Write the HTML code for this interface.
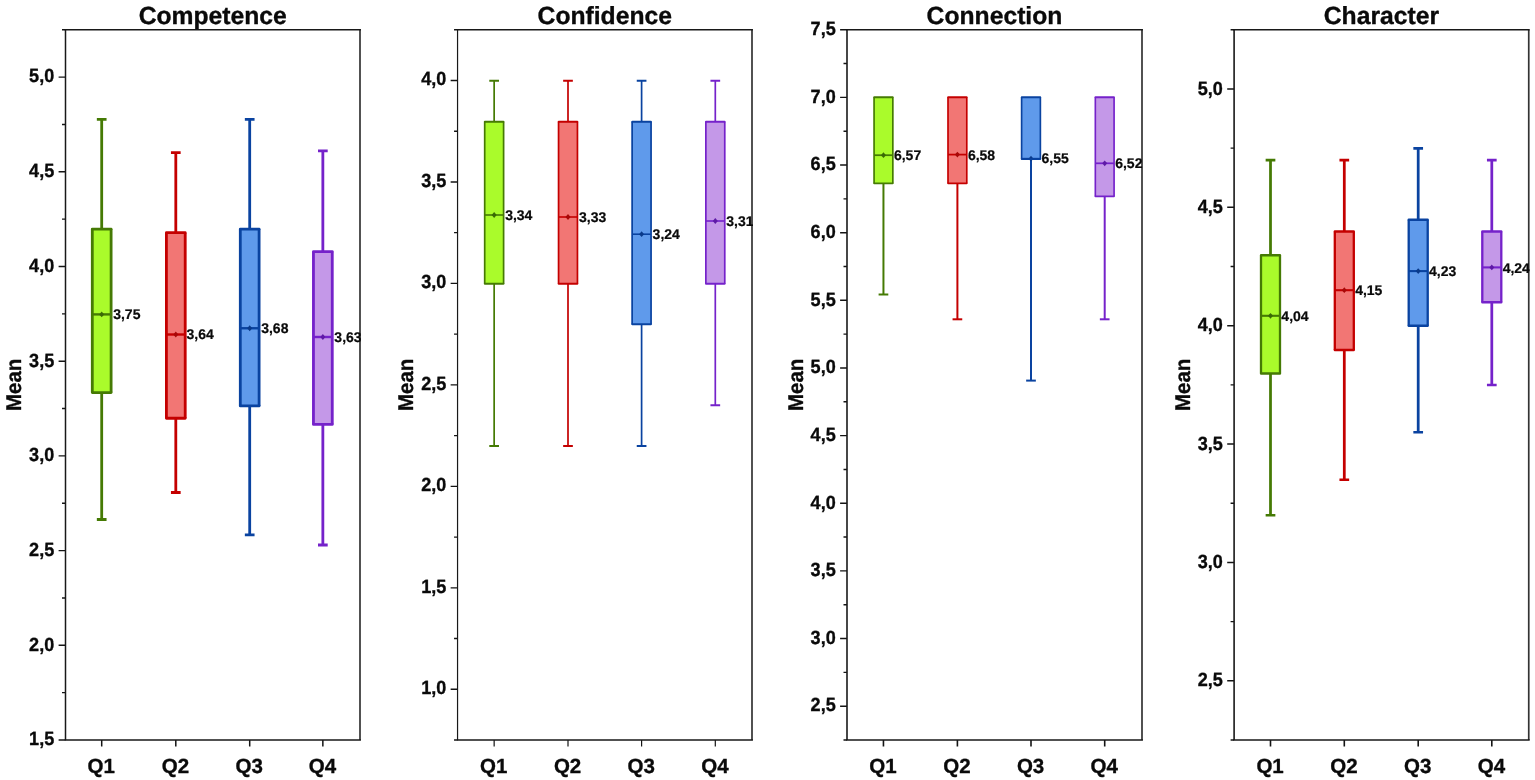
<!DOCTYPE html>
<html lang="en"><head><meta charset="utf-8"><title>Box plots: Competence, Confidence, Connection, Character</title>
<style>
html,body{margin:0;padding:0;background:#fff;}
body{width:1535px;height:780px;overflow:hidden;}
svg{display:block;}
text{font-family:"Liberation Sans",Arial,Helvetica,sans-serif;font-weight:bold;fill:#0a0a0a;text-rendering:geometricPrecision;stroke:#0a0a0a;stroke-width:0.35px;stroke-linejoin:round;}
.title{font-size:24.7px;}
.tick{font-size:19.1px;}
.ylab{font-size:20.5px;}
.ml{font-size:14px;stroke-width:0.22px;}
.xl{font-size:20.5px;}
.tk{stroke:#141414;fill:none;}
.fr{stroke:#181818;fill:none;}
.fr2{stroke:#333333;stroke-width:1.7;fill:none;}
</style></head><body>
<svg width="1535" height="780" viewBox="0 0 1535 780">
<rect width="1535" height="780" fill="#ffffff"/>
<g class="panel">
<clipPath id="clip-competence"><rect x="65.5" y="29.75" width="295.45" height="710.25"/></clipPath>
<text class="title" x="212.75" y="23.5" text-anchor="middle">Competence</text>
<text class="ylab" transform="translate(21.1 384.88) rotate(-90) scale(1 1.04)" text-anchor="middle">Mean</text>
<text class="tick" transform="translate(54.2 745.3) scale(0.945 1)" text-anchor="end">1,5</text>
<text class="tick" transform="translate(54.2 650.6) scale(0.945 1)" text-anchor="end">2,0</text>
<text class="tick" transform="translate(54.2 555.9) scale(0.945 1)" text-anchor="end">2,5</text>
<text class="tick" transform="translate(54.2 461.2) scale(0.945 1)" text-anchor="end">3,0</text>
<text class="tick" transform="translate(54.2 366.5) scale(0.945 1)" text-anchor="end">3,5</text>
<text class="tick" transform="translate(54.2 271.8) scale(0.945 1)" text-anchor="end">4,0</text>
<text class="tick" transform="translate(54.2 177.1) scale(0.945 1)" text-anchor="end">4,5</text>
<text class="tick" transform="translate(54.2 82.4) scale(0.945 1)" text-anchor="end">5,0</text>
<path class="tk" stroke-width="1.4" d="M58.6 740H65.5M58.6 645.3H65.5M58.6 550.6H65.5M58.6 455.9H65.5M58.6 361.2H65.5M58.6 266.5H65.5M58.6 171.8H65.5M58.6 77.1H65.5M62 692.65H65.5M62 597.95H65.5M62 503.25H65.5M62 408.55H65.5M62 313.85H65.5M62 219.15H65.5M62 124.45H65.5M62 29.75H65.5"/>
<path class="tk" stroke-width="1.5" d="M101.7 740V746.4M175.8 740V746.4M249.7 740V746.4M322.85 740V746.4"/>
<g stroke="#457A04" fill="none">
<path stroke-width="2.8" d="M101.7 229.1V119.3M101.7 392.6V519.5"/>
<path stroke-width="2.8" d="M96.85 119.3H106.55M96.85 519.5H106.55"/>
<rect x="91.4" y="229.1" width="20.6" height="163.5" fill="#AAFB2B" stroke="none"/>
<path stroke-width="2.4" d="M92.3 314.4H111.1"/>
<path d="M99.2 314.4l2.5 -2.9l2.5 2.9l-2.5 2.9z" fill="#3A6A06" stroke="none"/>
<path stroke-width="2.8" d="M92.3 229.1V392.6M111.1 229.1V392.6"/>
<path stroke-width="2.8" stroke-linecap="round" d="M92.3 229.1H111.1M92.3 392.6H111.1"/>
</g>
<text class="xl" x="101.3" y="772.7" text-anchor="middle">Q1</text>
<g stroke="#C40000" fill="none">
<path stroke-width="2.8" d="M175.8 232.7V152.7M175.8 418.25V492.5"/>
<path stroke-width="2.8" d="M170.95 152.7H180.65M170.95 492.5H180.65"/>
<rect x="165.5" y="232.7" width="20.6" height="185.55" fill="#F27674" stroke="none"/>
<path stroke-width="2.4" d="M166.4 334.5H185.2"/>
<path d="M173.3 334.5l2.5 -2.9l2.5 2.9l-2.5 2.9z" fill="#A80808" stroke="none"/>
<path stroke-width="2.8" d="M166.4 232.7V418.25M185.2 232.7V418.25"/>
<path stroke-width="2.8" stroke-linecap="round" d="M166.4 232.7H185.2M166.4 418.25H185.2"/>
</g>
<text class="xl" x="175.4" y="772.7" text-anchor="middle">Q2</text>
<g stroke="#0A43A0" fill="none">
<path stroke-width="2.8" d="M249.7 229.1V119.3M249.7 405.9V534.8"/>
<path stroke-width="2.8" d="M244.85 119.3H254.55M244.85 534.8H254.55"/>
<rect x="239.4" y="229.1" width="20.6" height="176.8" fill="#5F9AEB" stroke="none"/>
<path stroke-width="2.4" d="M240.3 328.25H259.1"/>
<path d="M247.2 328.25l2.5 -2.9l2.5 2.9l-2.5 2.9z" fill="#0A3A8A" stroke="none"/>
<path stroke-width="2.8" d="M240.3 229.1V405.9M259.1 229.1V405.9"/>
<path stroke-width="2.8" stroke-linecap="round" d="M240.3 229.1H259.1M240.3 405.9H259.1"/>
</g>
<text class="xl" x="249.3" y="772.7" text-anchor="middle">Q3</text>
<g stroke="#7522CA" fill="none">
<path stroke-width="2.8" d="M322.85 251.6V150.9M322.85 424.4V545"/>
<path stroke-width="2.8" d="M318 150.9H327.7M318 545H327.7"/>
<rect x="312.55" y="251.6" width="20.6" height="172.8" fill="#C498E8" stroke="none"/>
<path stroke-width="2.4" d="M313.45 337H332.25"/>
<path d="M320.35 337l2.5 -2.9l2.5 2.9l-2.5 2.9z" fill="#5E1AA6" stroke="none"/>
<path stroke-width="2.8" d="M313.45 251.6V424.4M332.25 251.6V424.4"/>
<path stroke-width="2.8" stroke-linecap="round" d="M313.45 251.6H332.25M313.45 424.4H332.25"/>
</g>
<text class="xl" x="322.45" y="772.7" text-anchor="middle">Q4</text>
<path class="fr2" d="M360 29.75V740"/>
<path class="fr" stroke-width="1.65" d="M64.75 29.75H360.95M64.75 740H360.95"/>
<path class="fr" stroke-width="1.5" d="M65.5 29.75V740"/>
<text class="ml" clip-path="url(#clip-competence)" x="113.2" y="319.3">3,75</text>
<text class="ml" clip-path="url(#clip-competence)" x="186.5" y="339.4">3,64</text>
<text class="ml" clip-path="url(#clip-competence)" x="261.2" y="333.15">3,68</text>
<text class="ml" clip-path="url(#clip-competence)" x="334.35" y="341.9">3,63</text>
</g>
<g class="panel">
<clipPath id="clip-confidence"><rect x="457.55" y="29.75" width="295.4" height="710.25"/></clipPath>
<text class="title" x="604.77" y="23.5" text-anchor="middle">Confidence</text>
<text class="ylab" transform="translate(413.15 384.88) rotate(-90) scale(1 1.04)" text-anchor="middle">Mean</text>
<text class="tick" transform="translate(446.25 694.27) scale(0.945 1)" text-anchor="end">1,0</text>
<text class="tick" transform="translate(446.25 592.8) scale(0.945 1)" text-anchor="end">1,5</text>
<text class="tick" transform="translate(446.25 491.34) scale(0.945 1)" text-anchor="end">2,0</text>
<text class="tick" transform="translate(446.25 389.88) scale(0.945 1)" text-anchor="end">2,5</text>
<text class="tick" transform="translate(446.25 288.41) scale(0.945 1)" text-anchor="end">3,0</text>
<text class="tick" transform="translate(446.25 186.95) scale(0.945 1)" text-anchor="end">3,5</text>
<text class="tick" transform="translate(446.25 85.48) scale(0.945 1)" text-anchor="end">4,0</text>
<path class="tk" stroke-width="1.35" d="M450.65 689.27H457.55M450.65 587.8H457.55M450.65 486.34H457.55M450.65 384.88H457.55M450.65 283.41H457.55M450.65 181.95H457.55M450.65 80.48H457.55M454.05 740H457.55M454.05 638.54H457.55M454.05 537.07H457.55M454.05 435.61H457.55M454.05 334.14H457.55M454.05 232.68H457.55M454.05 131.21H457.55M454.05 29.75H457.55"/>
<path class="tk" stroke-width="1.2" d="M494.15 740V746.4M568 740V746.4M641.6 740V746.4M715.3 740V746.4"/>
<g stroke="#457A04" fill="none">
<path stroke-width="1.7" d="M494.15 121.7V80.7M494.15 283.8V445.9"/>
<path stroke-width="2" d="M489.3 80.7H499M489.3 445.9H499"/>
<rect x="484.35" y="121.7" width="19.6" height="162.1" fill="#AAFB2B" stroke="none"/>
<path stroke-width="1.6" d="M484.7 215H503.6"/>
<path d="M491.65 215l2.5 -2.9l2.5 2.9l-2.5 2.9z" fill="#3A6A06" stroke="none"/>
<path stroke-width="1.7" d="M484.7 121.7V283.8M503.6 121.7V283.8"/>
<path stroke-width="2.1" stroke-linecap="round" d="M484.9 121.7H503.4M484.9 283.8H503.4"/>
</g>
<text class="xl" x="493.75" y="772.7" text-anchor="middle">Q1</text>
<g stroke="#C40000" fill="none">
<path stroke-width="1.7" d="M568 121.7V80.7M568 283.8V445.9"/>
<path stroke-width="2" d="M563.15 80.7H572.85M563.15 445.9H572.85"/>
<rect x="558.2" y="121.7" width="19.6" height="162.1" fill="#F27674" stroke="none"/>
<path stroke-width="1.6" d="M558.55 217H577.45"/>
<path d="M565.5 217l2.5 -2.9l2.5 2.9l-2.5 2.9z" fill="#A80808" stroke="none"/>
<path stroke-width="1.7" d="M558.55 121.7V283.8M577.45 121.7V283.8"/>
<path stroke-width="2.1" stroke-linecap="round" d="M558.75 121.7H577.25M558.75 283.8H577.25"/>
</g>
<text class="xl" x="567.6" y="772.7" text-anchor="middle">Q2</text>
<g stroke="#0A43A0" fill="none">
<path stroke-width="1.7" d="M641.6 121.7V80.7M641.6 324.3V445.9"/>
<path stroke-width="2" d="M636.75 80.7H646.45M636.75 445.9H646.45"/>
<rect x="631.8" y="121.7" width="19.6" height="202.6" fill="#5F9AEB" stroke="none"/>
<path stroke-width="1.6" d="M632.15 234.2H651.05"/>
<path d="M639.1 234.2l2.5 -2.9l2.5 2.9l-2.5 2.9z" fill="#0A3A8A" stroke="none"/>
<path stroke-width="1.7" d="M632.15 121.7V324.3M651.05 121.7V324.3"/>
<path stroke-width="2.1" stroke-linecap="round" d="M632.35 121.7H650.85M632.35 324.3H650.85"/>
</g>
<text class="xl" x="641.2" y="772.7" text-anchor="middle">Q3</text>
<g stroke="#7522CA" fill="none">
<path stroke-width="1.7" d="M715.3 121.7V80.7M715.3 283.8V405.3"/>
<path stroke-width="2" d="M710.45 80.7H720.15M710.45 405.3H720.15"/>
<rect x="705.5" y="121.7" width="19.6" height="162.1" fill="#C498E8" stroke="none"/>
<path stroke-width="1.6" d="M705.85 221H724.75"/>
<path d="M712.8 221l2.5 -2.9l2.5 2.9l-2.5 2.9z" fill="#5E1AA6" stroke="none"/>
<path stroke-width="1.7" d="M705.85 121.7V283.8M724.75 121.7V283.8"/>
<path stroke-width="2.1" stroke-linecap="round" d="M706.05 121.7H724.55M706.05 283.8H724.55"/>
</g>
<text class="xl" x="714.9" y="772.7" text-anchor="middle">Q4</text>
<path class="fr2" d="M752 29.75V740"/>
<path class="fr" stroke-width="1.6" d="M456.95 29.75H752.95M456.95 740H752.95"/>
<path class="fr" stroke-width="1.2" d="M457.55 29.75V740"/>
<text class="ml" clip-path="url(#clip-confidence)" x="505.15" y="220.2">3,34</text>
<text class="ml" clip-path="url(#clip-confidence)" x="579" y="222.2">3,33</text>
<text class="ml" clip-path="url(#clip-confidence)" x="652.6" y="239.4">3,24</text>
<text class="ml" clip-path="url(#clip-confidence)" x="726.3" y="226.2">3,31</text>
</g>
<g class="panel">
<clipPath id="clip-connection"><rect x="847" y="29.75" width="295.95" height="710.25"/></clipPath>
<text class="title" x="994.5" y="23.5" text-anchor="middle">Connection</text>
<text class="ylab" transform="translate(802.6 384.88) rotate(-90) scale(1 1.04)" text-anchor="middle">Mean</text>
<text class="tick" transform="translate(835.7 711.48) scale(0.945 1)" text-anchor="end">2,5</text>
<text class="tick" transform="translate(835.7 643.84) scale(0.945 1)" text-anchor="end">3,0</text>
<text class="tick" transform="translate(835.7 576.19) scale(0.945 1)" text-anchor="end">3,5</text>
<text class="tick" transform="translate(835.7 508.55) scale(0.945 1)" text-anchor="end">4,0</text>
<text class="tick" transform="translate(835.7 440.91) scale(0.945 1)" text-anchor="end">4,5</text>
<text class="tick" transform="translate(835.7 373.26) scale(0.945 1)" text-anchor="end">5,0</text>
<text class="tick" transform="translate(835.7 305.62) scale(0.945 1)" text-anchor="end">5,5</text>
<text class="tick" transform="translate(835.7 237.98) scale(0.945 1)" text-anchor="end">6,0</text>
<text class="tick" transform="translate(835.7 170.34) scale(0.945 1)" text-anchor="end">6,5</text>
<text class="tick" transform="translate(835.7 102.69) scale(0.945 1)" text-anchor="end">7,0</text>
<text class="tick" transform="translate(835.7 35.05) scale(0.945 1)" text-anchor="end">7,5</text>
<path class="tk" stroke-width="1.4" d="M840.1 706.18H847M840.1 638.54H847M840.1 570.89H847M840.1 503.25H847M840.1 435.61H847M840.1 367.96H847M840.1 300.32H847M840.1 232.68H847M840.1 165.04H847M840.1 97.39H847M840.1 29.75H847M843.5 740H847M843.5 672.36H847M843.5 604.71H847M843.5 537.07H847M843.5 469.43H847M843.5 401.79H847M843.5 334.14H847M843.5 266.5H847M843.5 198.86H847M843.5 131.21H847M843.5 63.57H847"/>
<path class="tk" stroke-width="1.6" d="M883.45 740V746.4M957.4 740V746.4M1031 740V746.4M1104.7 740V746.4"/>
<g stroke="#457A04" fill="none">
<path stroke-width="2" d="M883.45 183.35V294.5"/>
<path stroke-width="2" d="M878.6 294.5H888.3"/>
<rect x="873.75" y="97.25" width="19.4" height="86.1" fill="#AAFB2B" stroke="none"/>
<path stroke-width="1.75" d="M874.08 155.2H892.83"/>
<path d="M880.95 155.2l2.5 -2.9l2.5 2.9l-2.5 2.9z" fill="#3A6A06" stroke="none"/>
<path stroke-width="1.65" d="M874.08 97.25V183.35M892.83 97.25V183.35"/>
<path stroke-width="1.85" stroke-linecap="round" d="M874.17 97.25H892.73M874.17 183.35H892.73"/>
</g>
<text class="xl" x="883.05" y="772.7" text-anchor="middle">Q1</text>
<g stroke="#C40000" fill="none">
<path stroke-width="2" d="M957.4 183.35V319.3"/>
<path stroke-width="2" d="M952.55 319.3H962.25"/>
<rect x="947.7" y="97.25" width="19.4" height="86.1" fill="#F27674" stroke="none"/>
<path stroke-width="1.75" d="M948.02 154.6H966.77"/>
<path d="M954.9 154.6l2.5 -2.9l2.5 2.9l-2.5 2.9z" fill="#A80808" stroke="none"/>
<path stroke-width="1.65" d="M948.02 97.25V183.35M966.77 97.25V183.35"/>
<path stroke-width="1.85" stroke-linecap="round" d="M948.12 97.25H966.68M948.12 183.35H966.68"/>
</g>
<text class="xl" x="957" y="772.7" text-anchor="middle">Q2</text>
<g stroke="#0A43A0" fill="none">
<path stroke-width="2" d="M1031 159.1V380.6"/>
<path stroke-width="2" d="M1026.15 380.6H1035.85"/>
<rect x="1021.3" y="97.25" width="19.4" height="61.85" fill="#5F9AEB" stroke="none"/>
<path stroke-width="1.75" d="M1021.62 158.7H1040.38"/>
<path d="M1028.5 158.7l2.5 -2.9l2.5 2.9l-2.5 2.9z" fill="#0A3A8A" stroke="none"/>
<path stroke-width="1.65" d="M1021.62 97.25V159.1M1040.38 97.25V159.1"/>
<path stroke-width="1.85" stroke-linecap="round" d="M1021.72 97.25H1040.28M1021.72 159.1H1040.28"/>
</g>
<text class="xl" x="1030.6" y="772.7" text-anchor="middle">Q3</text>
<g stroke="#7522CA" fill="none">
<path stroke-width="2" d="M1104.7 196.35V319.3"/>
<path stroke-width="2" d="M1099.85 319.3H1109.55"/>
<rect x="1095" y="97.25" width="19.4" height="99.1" fill="#C498E8" stroke="none"/>
<path stroke-width="1.75" d="M1095.33 163.3H1114.08"/>
<path d="M1102.2 163.3l2.5 -2.9l2.5 2.9l-2.5 2.9z" fill="#5E1AA6" stroke="none"/>
<path stroke-width="1.65" d="M1095.33 97.25V196.35M1114.08 97.25V196.35"/>
<path stroke-width="1.85" stroke-linecap="round" d="M1095.42 97.25H1113.98M1095.42 196.35H1113.98"/>
</g>
<text class="xl" x="1104.3" y="772.7" text-anchor="middle">Q4</text>
<path class="fr2" d="M1142 29.75V740"/>
<path class="fr" stroke-width="1.65" d="M846.2 29.75H1142.95M846.2 740H1142.95"/>
<path class="fr" stroke-width="1.6" d="M847 29.75V740"/>
<text class="ml" clip-path="url(#clip-connection)" x="893.95" y="160.1">6,57</text>
<text class="ml" clip-path="url(#clip-connection)" x="967.9" y="159.5">6,58</text>
<text class="ml" clip-path="url(#clip-connection)" x="1041.5" y="162.95">6,55</text>
<text class="ml" clip-path="url(#clip-connection)" x="1115.2" y="167.7">6,52</text>
</g>
<g class="panel">
<clipPath id="clip-character"><rect x="1234.1" y="29.75" width="295.6" height="710.25"/></clipPath>
<text class="title" x="1381.42" y="23.5" text-anchor="middle">Character</text>
<text class="ylab" transform="translate(1189.7 384.88) rotate(-90) scale(1 1.04)" text-anchor="middle">Mean</text>
<text class="tick" transform="translate(1222.8 686.41) scale(0.945 1)" text-anchor="end">2,5</text>
<text class="tick" transform="translate(1222.8 568.04) scale(0.945 1)" text-anchor="end">3,0</text>
<text class="tick" transform="translate(1222.8 449.66) scale(0.945 1)" text-anchor="end">3,5</text>
<text class="tick" transform="translate(1222.8 331.29) scale(0.945 1)" text-anchor="end">4,0</text>
<text class="tick" transform="translate(1222.8 212.91) scale(0.945 1)" text-anchor="end">4,5</text>
<text class="tick" transform="translate(1222.8 94.54) scale(0.945 1)" text-anchor="end">5,0</text>
<path class="tk" stroke-width="1.4" d="M1227.2 680.81H1234.1M1227.2 562.44H1234.1M1227.2 444.06H1234.1M1227.2 325.69H1234.1M1227.2 207.31H1234.1M1227.2 88.94H1234.1M1230.6 740H1234.1M1230.6 621.62H1234.1M1230.6 503.25H1234.1M1230.6 384.88H1234.1M1230.6 266.5H1234.1M1230.6 148.12H1234.1M1230.6 29.75H1234.1"/>
<path class="tk" stroke-width="1.6" d="M1270.5 740V746.4M1344.3 740V746.4M1418.2 740V746.4M1491.8 740V746.4"/>
<g stroke="#457A04" fill="none">
<path stroke-width="2.75" d="M1270.5 255.3V160.1M1270.5 373.6V515.2"/>
<path stroke-width="2.6" d="M1265.65 160.1H1275.35M1265.65 515.2H1275.35"/>
<rect x="1260.35" y="255.3" width="20.3" height="118.3" fill="#AAFB2B" stroke="none"/>
<path stroke-width="2.1" d="M1261 315.8H1280"/>
<path d="M1268 315.8l2.5 -2.9l2.5 2.9l-2.5 2.9z" fill="#3A6A06" stroke="none"/>
<path stroke-width="2.3" d="M1261 255.3V373.6M1280 255.3V373.6"/>
<path stroke-width="2.5" stroke-linecap="round" d="M1261.1 255.3H1279.9M1261.1 373.6H1279.9"/>
</g>
<text class="xl" x="1270.1" y="772.7" text-anchor="middle">Q1</text>
<g stroke="#C40000" fill="none">
<path stroke-width="2.75" d="M1344.3 231.5V160.1M1344.3 350V479.7"/>
<path stroke-width="2.6" d="M1339.45 160.1H1349.15M1339.45 479.7H1349.15"/>
<rect x="1334.15" y="231.5" width="20.3" height="118.5" fill="#F27674" stroke="none"/>
<path stroke-width="2.1" d="M1334.8 290.2H1353.8"/>
<path d="M1341.8 290.2l2.5 -2.9l2.5 2.9l-2.5 2.9z" fill="#A80808" stroke="none"/>
<path stroke-width="2.3" d="M1334.8 231.5V350M1353.8 231.5V350"/>
<path stroke-width="2.5" stroke-linecap="round" d="M1334.9 231.5H1353.7M1334.9 350H1353.7"/>
</g>
<text class="xl" x="1343.9" y="772.7" text-anchor="middle">Q2</text>
<g stroke="#0A43A0" fill="none">
<path stroke-width="2.75" d="M1418.2 219.7V148.4M1418.2 325.8V432.3"/>
<path stroke-width="2.6" d="M1413.35 148.4H1423.05M1413.35 432.3H1423.05"/>
<rect x="1408.05" y="219.7" width="20.3" height="106.1" fill="#5F9AEB" stroke="none"/>
<path stroke-width="2.1" d="M1408.7 271.1H1427.7"/>
<path d="M1415.7 271.1l2.5 -2.9l2.5 2.9l-2.5 2.9z" fill="#0A3A8A" stroke="none"/>
<path stroke-width="2.3" d="M1408.7 219.7V325.8M1427.7 219.7V325.8"/>
<path stroke-width="2.5" stroke-linecap="round" d="M1408.8 219.7H1427.6M1408.8 325.8H1427.6"/>
</g>
<text class="xl" x="1417.8" y="772.7" text-anchor="middle">Q3</text>
<g stroke="#7522CA" fill="none">
<path stroke-width="2.75" d="M1491.8 231.5V160.1M1491.8 302.2V385"/>
<path stroke-width="2.6" d="M1486.95 160.1H1496.65M1486.95 385H1496.65"/>
<rect x="1481.65" y="231.5" width="20.3" height="70.7" fill="#C498E8" stroke="none"/>
<path stroke-width="2.1" d="M1482.3 267.4H1501.3"/>
<path d="M1489.3 267.4l2.5 -2.9l2.5 2.9l-2.5 2.9z" fill="#5E1AA6" stroke="none"/>
<path stroke-width="2.3" d="M1482.3 231.5V302.2M1501.3 231.5V302.2"/>
<path stroke-width="2.5" stroke-linecap="round" d="M1482.4 231.5H1501.2M1482.4 302.2H1501.2"/>
</g>
<text class="xl" x="1491.4" y="772.7" text-anchor="middle">Q4</text>
<path class="fr2" d="M1528.75 29.75V740"/>
<path class="fr" stroke-width="1.65" d="M1233.3 29.75H1529.7M1233.3 740H1529.7"/>
<path class="fr" stroke-width="1.6" d="M1234.1 29.75V740"/>
<text class="ml" clip-path="url(#clip-character)" x="1281.35" y="320.7">4,04</text>
<text class="ml" clip-path="url(#clip-character)" x="1355.15" y="295.1">4,15</text>
<text class="ml" clip-path="url(#clip-character)" x="1429.05" y="276">4,23</text>
<text class="ml" clip-path="url(#clip-character)" x="1502.65" y="272.9">4,24</text>
</g>
</svg>
</body></html>
